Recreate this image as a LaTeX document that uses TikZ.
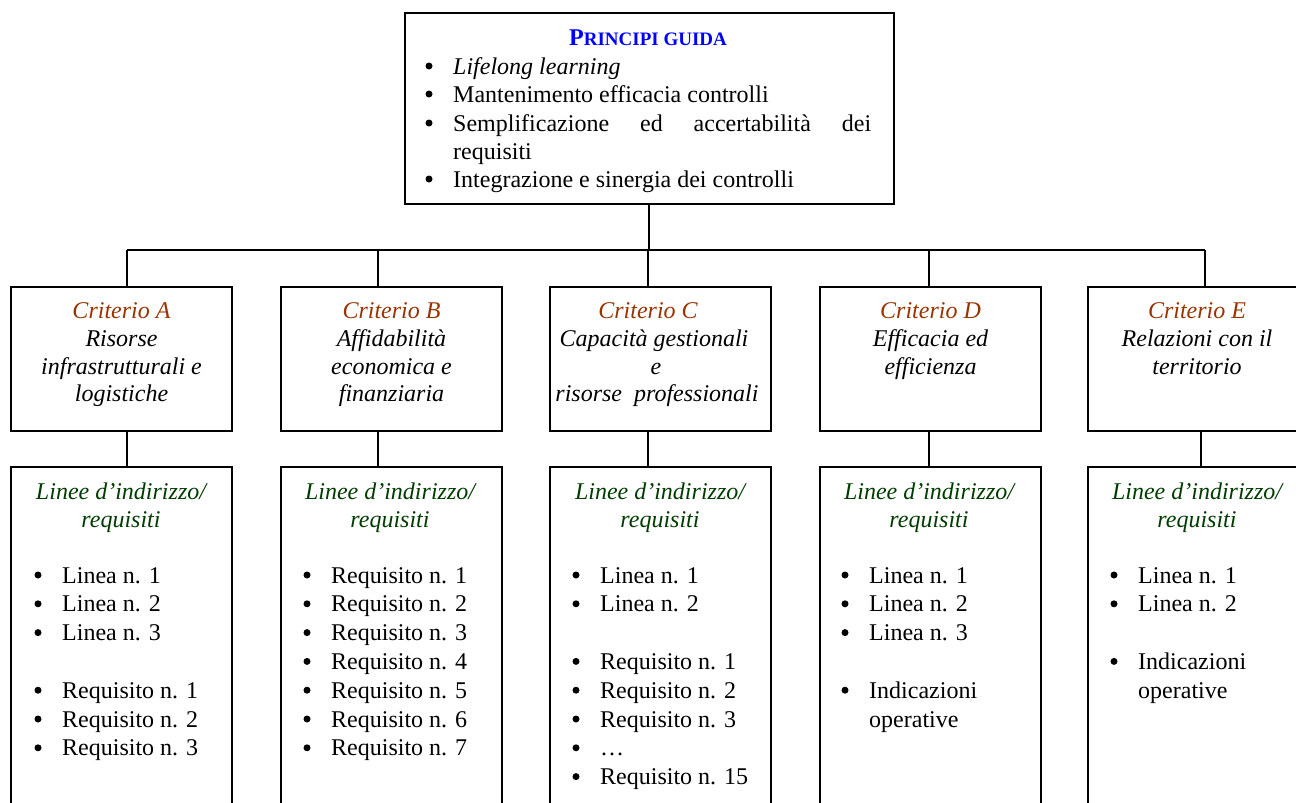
\documentclass[tikz,border=0pt]{standalone}
\usepackage{fontspec}
\setmainfont{Liberation Serif}
\definecolor{critcol}{RGB}{153,51,0}
\definecolor{linecol}{RGB}{0,60,0}
\definecolor{titcol}{RGB}{0,0,255}
\begin{document}
\begin{tikzpicture}[x=1pt,y=-1pt,
  box/.style={draw=black,line width=2pt,anchor=north west,inner sep=0pt},
  conn/.style={draw=black,line width=1.7pt},
  txt/.style={anchor=base,inner sep=0pt,font=\fontsize{24}{28}\selectfont},
  ltxt/.style={anchor=base west,inner sep=0pt,font=\fontsize{24}{28}\selectfont},
  bul/.style={circle,fill=black,inner sep=0pt,minimum size=7pt}]
\useasboundingbox (0,0) rectangle (1296,803);
\clip (0,0) rectangle (1296,803);
% top box
\node[box,minimum width=489pt,minimum height=191pt] (top) at (403.5,12) {};
\node[txt,text=titcol] (title) at (648,45) {\bfseries{\fontsize{24}{28}\selectfont P}{\fontsize{19}{28}\selectfont RINCIPI GUIDA}};
\foreach \yy/\tt [count=\i] in {74/{\itshape Lifelong learning},102/{Mantenimento efficacia controlli},131/{\makebox[418pt][s]{Semplificazione ed accertabilità dei}},187/{Integrazione e sinergia dei controlli}}{
  \node[bul] (tb\i) at (429,\yy-8) {};
  \node[ltxt] (tt\i) at (453,\yy) {\tt};
}
\node[ltxt] (tt5) at (453,159) {requisiti};
% criteria boxes
\foreach \n/\xl in {A/10,B/280,C/549,D/819,E/1087}{
  \node[box,minimum width=221pt,minimum height=144pt] (c\n) at (\xl,286) {};
  \node[box,minimum width=221pt,minimum height=400pt] (d\n) at (\xl,466) {};
}
% bus
\coordinate (jA) at (127,250);
\coordinate (jB) at (378,250);
\coordinate (jC) at (648,250);
\coordinate (jD) at (929,250);
\coordinate (jE) at (1205,250);
\coordinate (kA) at (127,0);
\coordinate (kB) at (378,0);
\coordinate (kC) at (648,0);
\coordinate (kD) at (929,0);
\coordinate (kE) at (1201,0);
\draw[conn] (top.south) -- (top.south |- jA);
\draw[conn] (jA) -- (jE);
\foreach \n in {A,B,C,D,E}{
  \draw[conn] (j\n) -- (j\n |- c\n.north);
  \draw[conn] (k\n |- c\n.south) -- (k\n |- d\n.north);
}
% criteria texts
\begin{scope}[every node/.append style={txt,font=\fontsize{24}{28}\selectfont\itshape}]
\node[text=critcol] (ctA1) at (cA.north |- 0,318) {Criterio A};
\node (ctA2) at (cA.north |- 0,346) {Risorse};
\node (ctA3) at (cA.north |- 0,374) {infrastrutturali e};
\node (ctA4) at (cA.north |- 0,401) {logistiche};
\node[text=critcol] (ctB1) at (cB.north |- 0,318) {Criterio B};
\node (ctB2) at (cB.north |- 0,346) {Affidabilità};
\node (ctB3) at (cB.north |- 0,374) {economica e};
\node (ctB4) at (cB.north |- 0,401) {finanziaria};
\node[text=critcol] (ctC1) at (648,318) {Criterio C};
\node (ctC2) at (654,346) {Capacità gestionali};
\node (ctC3) at (656,374) {e};
\node (ctC4) at (657,401) {risorse\ \ professionali};
\node[text=critcol] (ctD1) at (cD.north |- 0,318) {Criterio D};
\node (ctD2) at (cD.north |- 0,346) {Efficacia ed};
\node (ctD3) at (cD.north |- 0,374) {efficienza};
\node[text=critcol] (ctE1) at (1197,318) {Criterio E};
\node (ctE2) at (1197,346) {Relazioni con il};
\node (ctE3) at (1197,374) {territorio};
\end{scope}
% detail headers
\foreach \n/\cx in {A/121,B/390,C/660,D/929,E/1197}{
  \node[txt,text=linecol,font=\fontsize{24}{28}\selectfont\itshape] (h\n1) at (\cx,499) {Linee d’indirizzo/};
  \node[txt,text=linecol,font=\fontsize{24}{28}\selectfont\itshape] (h\n2) at (\cx,527) {requisiti};
}
% items
\foreach \k/\tt in {0/{Linea n. 1},1/{Linea n. 2},2/{Linea n. 3},4/{Requisito n. 1},5/{Requisito n. 2},6/{Requisito n. 3}}{
  \node[bul] (bA\k) at (38,575+28.8*\k) {};
  \node[ltxt] (iA\k) at (62,583+28.8*\k) {\tt};
}
\foreach \k in {0,...,6}{
  \pgfmathtruncatemacro{\m}{\k+1}
  \node[bul] (bB\k) at (307,575+28.8*\k) {};
  \node[ltxt] (iB\k) at (331,583+28.8*\k) {Requisito n. \m};
}
\foreach \k/\tt in {0/{Linea n. 1},1/{Linea n. 2},3/{Requisito n. 1},4/{Requisito n. 2},5/{Requisito n. 3},6/{…},7/{Requisito n. 15}}{
  \node[bul] (bC\k) at (576,575+28.8*\k) {};
  \node[ltxt] (iC\k) at (600,583+28.8*\k) {\tt};
}
\foreach \k/\tt in {0/{Linea n. 1},1/{Linea n. 2},2/{Linea n. 3},4/{Indicazioni}}{
  \node[bul] (bD\k) at (845,575+28.8*\k) {};
  \node[ltxt] (iD\k) at (869,583+28.8*\k) {\tt};
}
\node[ltxt] (iD5) at (869,583+28.8*5) {operative};
\foreach \k/\tt in {0/{Linea n. 1},1/{Linea n. 2},3/{Indicazioni}}{
  \node[bul] (bE\k) at (1114,575+28.8*\k) {};
  \node[ltxt] (iE\k) at (1138,583+28.8*\k) {\tt};
}
\node[ltxt] (iE4) at (1138,583+28.8*4) {operative};
\end{tikzpicture}
\end{document}
